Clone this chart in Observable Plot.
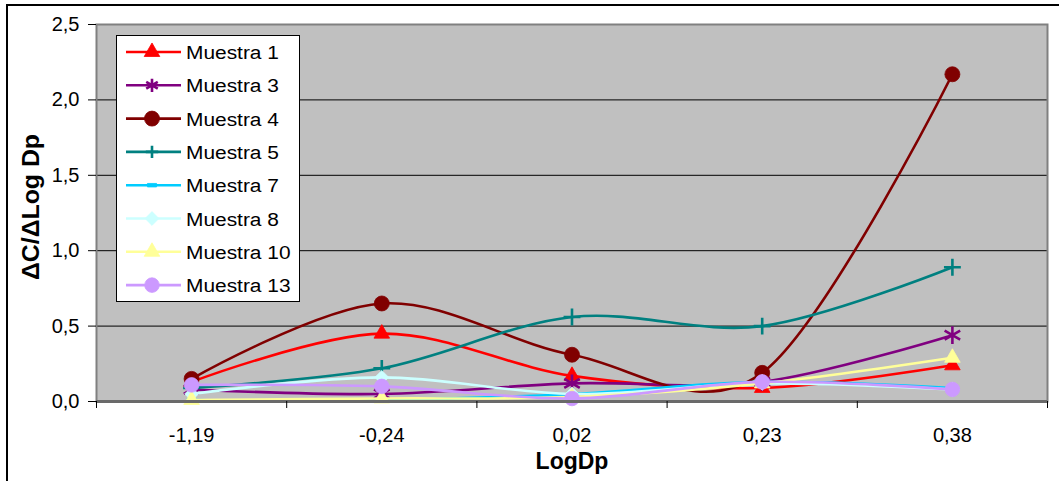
<!DOCTYPE html>
<html>
<head>
<meta charset="utf-8">
<script src="https://cdn.jsdelivr.net/npm/d3@7"></script>
<script src="https://cdn.jsdelivr.net/npm/@observablehq/plot@0.6"></script>
<style>
  html, body { margin: 0; padding: 0; background: #fff; }
  #wrap { position: relative; width: 1059px; height: 481px; overflow: hidden; font-family: "Liberation Sans", Arial, sans-serif; }
  #edge { position: absolute; left: 6px; top: 4px; width: 1200px; height: 700px; border-left: 2px solid #000; border-top: 2px solid #000; }
  #legend { position: absolute; left: 0; top: 0; }
</style>
</head>
<body>
<div id="wrap"><div id="edge"></div></div>
<script>
// LogDp classes along the x axis
const categories = ["-1,19", "-0,24", "0,02", "0,23", "0,38"];

// ΔC/ΔLog Dp for each sample
const muestra1  = [0.13, 0.45, 0.17, 0.09, 0.24];
const muestra3  = [0.08, 0.05, 0.12, 0.13, 0.44];
const muestra4  = [0.15, 0.65, 0.31, 0.19, 2.17];
const muestra5  = [0.09, 0.22, 0.56, 0.50, 0.89];
const muestra7  = [0.01, 0.01, 0.05, 0.13, 0.09];
const muestra8  = [0.05, 0.16, 0.05, 0.12, 0.08];
const muestra10 = [0.01, 0.02, 0.03, 0.12, 0.29];
const muestra13 = [0.11, 0.10, 0.02, 0.13, 0.08];

const seriesNames = ["Muestra 1", "Muestra 3", "Muestra 4", "Muestra 5", "Muestra 7", "Muestra 8", "Muestra 10", "Muestra 13"];
const seriesValues = [muestra1, muestra3, muestra4, muestra5, muestra7, muestra8, muestra10, muestra13];
const seriesColors = ["#FF0000", "#800080", "#800000", "#008080", "#00CCFF", "#CCFFFF", "#FFFF99", "#CC99FF"];
const seriesSymbols = ["triangle", "asterisk", "circle", "plus", "dash", "diamond2", "triangle", "circle"];
const symbolRadius = [5.8, 8.5, 7.5, 5.5, 3.2, 6.2, 5.8, 7.3];
const strokeSymbols = new Set(["asterisk", "plus"]);

const yTicks = [0, 0.5, 1, 1.5, 2, 2.5];
const gridValues = [0.5, 1, 1.5, 2];

const comma = d => d.toFixed(1).replace(".", ",");
const idx = d3.range(categories.length);
const bandEdges = d3.range(categories.length + 1).map(i => i - 0.5);

// short horizontal bar marker
const symbolDash = {
  draw(context, size) {
    const h = Math.sqrt(size / 2.6);
    const w = h * 2.6;
    context.rect(-w / 2, -h / 2, w, h);
  }
};

const symbolTypes = {
  triangle: d3.symbolTriangle, asterisk: d3.symbolAsterisk, circle: d3.symbolCircle,
  plus: d3.symbolPlus, dash: symbolDash, diamond2: d3.symbolDiamond2
};

const series = seriesNames.map((name, s) => ({
  name,
  color: seriesColors[s],
  symbol: seriesSymbols[s],
  r: symbolRadius[s],
  rows: seriesValues[s].map((v, i) => ({i, v}))
}));

const marks = [
  Plot.frame({fill: "#C0C0C0"}),
  Plot.ruleY(gridValues, {stroke: "#000", strokeWidth: 1})
];

for (const s of series) {
  marks.push(Plot.line(s.rows, {x: "i", y: "v", stroke: s.color, strokeWidth: 2.6, curve: "cardinal"}));
  const isStroke = strokeSymbols.has(s.symbol);
  marks.push(Plot.dot(s.rows, {
    x: "i", y: "v", symbol: () => symbolTypes[s.symbol], r: s.r,
    fill: isStroke ? "none" : s.color,
    stroke: s.color,
    strokeWidth: isStroke ? 2.6 : 0.8
  }));
}

marks.push(
  Plot.frame({stroke: "#808080", strokeWidth: 2}),
  Plot.ruleY([0], {stroke: "#6a6a6a", strokeWidth: 3}),
  Plot.axisY(yTicks, {tickSize: 8, tickPadding: 9, tickFormat: comma, stroke: "#000", label: null}),
  Plot.axisX(bandEdges, {tickSize: 7, tickFormat: () => "", stroke: "#000", label: null}),
  Plot.axisX(idx, {tickSize: 0, tickPadding: 26, tickFormat: i => categories[i], label: null})
);

const chart = Plot.plot({
  width: 1059,
  height: 481,
  marginLeft: 96,
  marginRight: 12,
  marginTop: 24,
  marginBottom: 80,
  x: {type: "linear", domain: [-0.5, categories.length - 0.5]},
  y: {domain: [0, 2.5]},
  symbol: {type: "identity"},
  style: {fontFamily: "\"Liberation Sans\", Arial, sans-serif", fontSize: "20px", color: "#000", background: "transparent"},
  marks
});

const svg = d3.select(chart);
// axis titles
svg.append("text")
  .attr("x", 572).attr("y", 469)
  .attr("text-anchor", "middle")
  .attr("font-weight", "bold").attr("font-size", 23)
  .attr("fill", "#000")
  .text("LogDp");
svg.append("text")
  .attr("transform", "translate(39,207) rotate(-90) scale(1.08,1)")
  .attr("text-anchor", "middle")
  .attr("font-weight", "bold").attr("font-size", 23)
  .attr("fill", "#000")
  .text("ΔC/ΔLog Dp");

document.getElementById("wrap").appendChild(chart);

// legend box
const lg = d3.select("#wrap").append("svg")
  .attr("id", "legend")
  .attr("width", 1059).attr("height", 481)
  .style("font-family", "\"Liberation Sans\", Arial, sans-serif");
lg.append("rect")
  .attr("x", 116.5).attr("y", 35.5).attr("width", 183).attr("height", 266)
  .attr("fill", "#fff").attr("stroke", "#000").attr("stroke-width", 1);

series.forEach((s, k) => {
  const cy = 52 + k * 33.3;
  const g = lg.append("g");
  g.append("line").attr("x1", 126).attr("x2", 181).attr("y1", cy).attr("y2", cy)
    .attr("stroke", s.color).attr("stroke-width", 2.6);
  const isStroke = strokeSymbols.has(s.symbol);
  const size = Math.PI * s.r * s.r;
  g.append("path")
    .attr("transform", `translate(152,${cy})`)
    .attr("d", d3.symbol(symbolTypes[s.symbol], isStroke ? size * 0.55 : size)())
    .attr("fill", isStroke ? "none" : s.color)
    .attr("stroke", s.color)
    .attr("stroke-width", isStroke ? 2.6 : 0.8);
  g.append("text")
    .attr("transform", `translate(186,${cy + 7}) scale(1.1,1)`)
    .attr("font-size", 19)
    .attr("fill", "#000")
    .text(s.name);
});
</script>
</body>
</html>
